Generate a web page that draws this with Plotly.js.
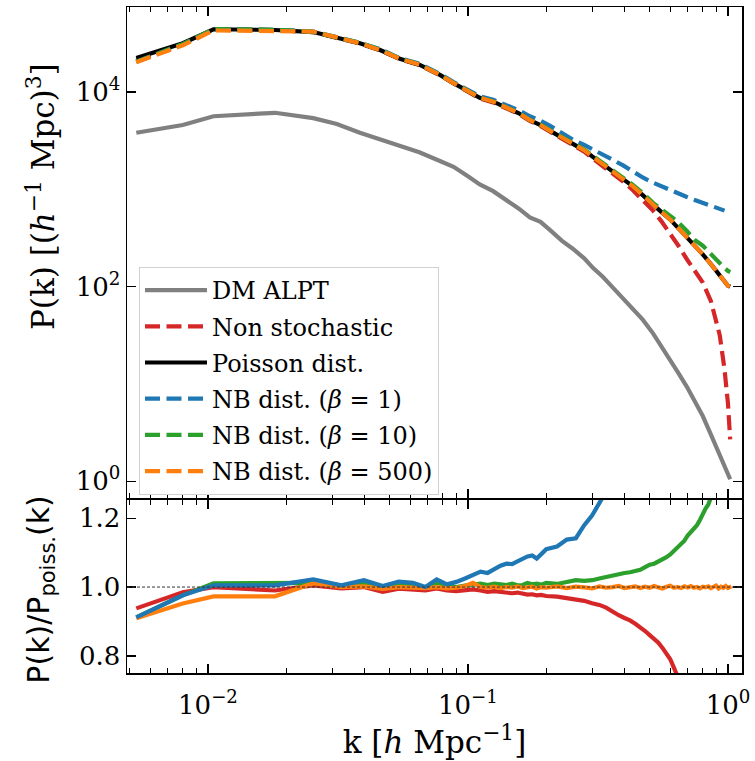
<!DOCTYPE html>
<html>
<head>
<meta charset="utf-8">
<script src="https://cdn.plot.ly/plotly-3.0.1.min.js"></script>
<style>html,body{margin:0;padding:0;background:#fff;}</style>
</head>
<body>
<div id="chart" style="width:755px;height:761px;"></div>
<script>
// ---------- DATA ----------
// k grid of the power-spectrum panel [h/Mpc]
const kTop = [0.0053, 0.0080, 0.0105, 0.0181, 0.0254, 0.0313, 0.0384, 0.0459, 0.0547, 0.065,
  0.078, 0.088, 0.099, 0.111, 0.125, 0.141, 0.157, 0.173, 0.19, 0.207,
  0.23, 0.253, 0.28, 0.303, 0.33, 0.361, 0.395, 0.431, 0.47, 0.515,
  0.555, 0.599, 0.645, 0.695, 0.745, 0.80, 0.86, 0.93, 0.97, 1.0, 1.02];

const pDM = [3800, 4570, 5620, 6100, 5370, 4680, 3800, 3240, 2750, 2400,
  1950, 1700, 1380, 1120, 955, 776, 631, 513, 462, 380,
  295, 245, 195, 155, 126, 97.7, 75.9, 57.5, 45.7, 33.1,
  24.5, 17.8, 12.9, 9.33, 6.61, 4.68, 3.02, 1.91, 1.45, 1.20, 1.05];

const pNonStoch = [20990, 30830, 43950, 43050, 41200, 35970, 31330, 26670, 21680, 18880,
  14830, 12190, 10280, 8550, 7800, 6790, 5920, 5040, 4480, 3900,
  3300, 2860, 2430, 2050, 1740, 1430, 1200, 977, 776, 603,
  468, 355, 263, 191, 148, 110, 70.8, 31.6, 14.1, 6.31, 2.69];

const pPoisson = [22300, 31600, 44000, 43250, 41200, 36300, 31600, 26900, 21900, 19050,
  14960, 12300, 10470, 8710, 7940, 6920, 6030, 5130, 4570, 3980,
  3390, 2950, 2510, 2140, 1820, 1510, 1290, 1070, 871, 692,
  582, 490, 398, 324, 263, 214, 170, 132, 112, 102, 100];

const pNB1 = [20420, 30900, 44160, 43450, 41690, 36730, 31990, 27540, 22130, 19500,
  15310, 12590, 10720, 9020, 8320, 7330, 6460, 5620, 5070, 4470,
  3720, 3240, 2850, 2570, 2240, 2000, 1760, 1510, 1320, 1170,
  1070, 977, 902, 832, 776, 724, 676, 631, 603];

const pNB10 = [20420, 30900, 44160, 43450, 41400, 36480, 31770, 27100, 21980, 19190,
  15030, 12360, 10520, 8750, 7980, 6950, 6050, 5150, 4600, 4030,
  3430, 2990, 2560, 2190, 1860, 1550, 1330, 1110, 912, 724,
  624, 537, 457, 372, 302, 263, 214, 174, 155, 145, 141];

const pNB500 = [20180, 30100, 42760, 42070, 41690, 36300, 31600, 26900, 21900, 19050,
  14960, 12300, 10470, 8710, 7940, 6920, 6030, 5130, 4570, 3980,
  3390, 2950, 2510, 2140, 1820, 1510, 1290, 1070, 871, 692,
  582, 490, 398, 324, 263, 214, 170, 132, 112, 102, 100];

// k grid of the ratio panel [h/Mpc]
const kRatio = [0.0053, 0.0080, 0.0105, 0.0181, 0.0254,
  0.0326, 0.0398, 0.0470, 0.0542, 0.0614, 0.0686, 0.0758, 0.0830, 0.0902, 0.0974,
  0.1046, 0.1118, 0.119, 0.1262, 0.1334, 0.1406, 0.1478, 0.155, 0.1622, 0.1694,
  0.1766, 0.1838, 0.191,
  0.20, 0.22, 0.24, 0.26, 0.28, 0.30, 0.32, 0.34, 0.36, 0.38,
  0.40, 0.42, 0.44, 0.46, 0.48, 0.50, 0.52, 0.54, 0.56, 0.58,
  0.60, 0.62, 0.64, 0.66, 0.68, 0.70, 0.72, 0.74, 0.76, 0.78,
  0.80, 0.82, 0.84, 0.86, 0.88, 0.90, 0.92, 0.94, 0.96, 0.98,
  1.00, 1.02, 1.03];

const ratioNonStoch = [0.938, 0.985, 1.0, 0.99, 1.005,
  0.996, 1.0, 0.986, 0.995, 0.993, 0.99, 0.996, 0.99, 0.988, 0.99,
  0.993, 0.99, 0.986, 0.988, 0.985, 0.983, 0.982, 0.984, 0.98, 0.978,
  0.979, 0.976, 0.977,
  0.974, 0.972, 0.968, 0.962, 0.96, 0.953, 0.948, 0.94, 0.928, 0.918,
  0.91, 0.903, 0.893, 0.883, 0.872, 0.86, 0.85, 0.838, 0.823, 0.805,
  0.79, 0.765, 0.742, 0.715];

const ratioNB1 = [0.912, 0.976, 1.005, 1.005, 1.022,
  1.005, 1.02, 1.003, 1.016, 1.012, 1.0, 1.022, 1.008, 1.015, 1.025,
  1.035, 1.045, 1.041, 1.052, 1.062, 1.068, 1.067, 1.075, 1.082, 1.089,
  1.092, 1.083, 1.095,
  1.11, 1.118, 1.138, 1.142, 1.18, 1.208, 1.24, 1.272, 1.31];

const ratioNB10 = [0.912, 0.976, 1.011, 1.01, 1.012,
  1.005, 1.01, 1.002, 1.005, 1.003, 1.0, 1.012, 1.005, 1.0, 1.004,
  1.008, 1.01, 1.006, 1.01, 1.008, 1.006, 1.01, 1.005, 1.006, 1.012,
  1.008, 1.01, 1.007,
  1.012, 1.009, 1.015, 1.02, 1.018, 1.02, 1.025, 1.03, 1.033, 1.038,
  1.041, 1.043, 1.047, 1.05, 1.058, 1.065, 1.068, 1.074, 1.08, 1.087,
  1.095, 1.105, 1.115, 1.125, 1.135, 1.15, 1.16, 1.17, 1.18, 1.195,
  1.214, 1.228, 1.24, 1.258, 1.28];

const ratioNB500 = [0.909, 0.952, 0.973, 0.973, 1.011,
  1.0, 1.002, 0.995, 1.0, 0.998, 0.997, 1.0, 0.996, 0.998, 1.003,
  1.012, 1.0, 0.998, 1.001, 0.997, 1.0, 0.998, 1.002, 0.997, 0.999,
  1.001, 0.996, 1.0,
  0.998, 1.002, 0.997, 1.001, 0.999, 0.996, 1.002, 0.998, 1.0, 1.003,
  0.997, 1.0, 1.002, 0.997, 1.001, 0.998, 1.003, 0.999, 0.996, 1.001,
  1.004, 0.998, 1.0, 0.997, 1.002, 0.999, 1.003, 0.998, 1.0, 0.996,
  1.001, 0.999, 1.002, 0.997, 1.0, 1.004, 0.996, 1.001, 0.998, 1.003,
  0.997, 1.0, 1.002];

const xTickVals = [0.01, 0.1, 1];
const xTickText = ['10<sup>−2</sup>', '10<sup>−1</sup>', '10<sup>0</sup>'];
const xMinorVals = [0.005, 0.006, 0.007, 0.008, 0.009,
  0.02, 0.03, 0.04, 0.05, 0.06, 0.07, 0.08, 0.09,
  0.2, 0.3, 0.4, 0.5, 0.6, 0.7, 0.8, 0.9];
const yTopTickVals = [1, 100, 10000];
const yTopTickText = ['10<sup>0</sup>', '10<sup>2</sup>', '10<sup>4</sup>'];
const yBotTickVals = [0.8, 1.0, 1.2];
const yBotTickText = ['0.8', '1.0', '1.2'];

const legendNames = ['DM ALPT', 'Non stochastic', 'Poisson dist.',
  'NB dist. (<i>β</i> = 1)', 'NB dist. (<i>β</i> = 10)', 'NB dist. (<i>β</i> = 500)'];

// ---------- STYLE ----------
const C = {gray: '#808080', red: '#d62728', black: '#000000', blue: '#1f77b4', green: '#2ca02c', orange: '#ff7f0e'};
const LW = 4.2;
const DASH = '15px,6.5px';

const traces = [
  {x: kTop, y: pDM, name: legendNames[0], legendgroup: 'g0', mode: 'lines', line: {color: C.gray, width: LW}, xaxis: 'x', yaxis: 'y'},
  {x: kTop, y: pNonStoch, name: legendNames[1], legendgroup: 'g1', mode: 'lines', line: {color: C.red, width: LW, dash: DASH}, xaxis: 'x', yaxis: 'y'},
  {x: kTop, y: pPoisson, name: legendNames[2], legendgroup: 'g2', mode: 'lines', line: {color: C.black, width: LW}, xaxis: 'x', yaxis: 'y'},
  {x: kTop.slice(0, pNB1.length), y: pNB1, name: legendNames[3], legendgroup: 'g3', mode: 'lines', line: {color: C.blue, width: LW, dash: DASH}, xaxis: 'x', yaxis: 'y'},
  {x: kTop, y: pNB10, name: legendNames[4], legendgroup: 'g4', mode: 'lines', line: {color: C.green, width: LW, dash: DASH}, xaxis: 'x', yaxis: 'y'},
  {x: kTop, y: pNB500, name: legendNames[5], legendgroup: 'g5', mode: 'lines', line: {color: C.orange, width: LW, dash: DASH}, xaxis: 'x', yaxis: 'y'},
  // ratio panel
  {x: kRatio.slice(0, ratioNonStoch.length), y: ratioNonStoch, mode: 'lines', showlegend: false, line: {color: C.red, width: LW}, xaxis: 'x2', yaxis: 'y2'},
  {x: kRatio.slice(0, ratioNB10.length), y: ratioNB10, mode: 'lines', showlegend: false, line: {color: C.green, width: LW}, xaxis: 'x2', yaxis: 'y2'},
  {x: kRatio.slice(0, ratioNB500.length), y: ratioNB500, mode: 'lines', showlegend: false, line: {color: C.orange, width: LW}, xaxis: 'x2', yaxis: 'y2'},
  {x: kRatio.slice(0, ratioNB1.length), y: ratioNB1, mode: 'lines', showlegend: false, line: {color: C.blue, width: LW}, xaxis: 'x2', yaxis: 'y2'}
];

const serif = 'DejaVu Serif, serif';
const sans = 'DejaVu Sans, sans-serif';
const tickFont = {family: serif, size: 26, color: 'black'};

const commonX = {
  type: 'log',
  range: [-2.3115, 0.054],
  showline: true, linecolor: 'black', linewidth: 1.5, mirror: 'allticks',
  ticks: 'inside', ticklen: 9, tickwidth: 1.5, tickcolor: 'black',
  tickmode: 'array', tickvals: xTickVals, ticktext: xTickText,
  minor: {ticks: 'inside', ticklen: 5, tickwidth: 1, tickcolor: 'black', tickmode: 'array', tickvals: xMinorVals, showgrid: false},
  showgrid: false, zeroline: false,
  tickfont: tickFont
};

const split = 0.2613;
const half = 0.75 / 666;

const layout = {
  width: 755, height: 761,
  margin: {l: 127, r: 13, t: 7, b: 88, pad: 0},
  paper_bgcolor: 'white', plot_bgcolor: 'white',
  showlegend: true,
  legend: {
    x: 0.0195, y: 0.6096, xanchor: 'left', yanchor: 'top',
    bgcolor: 'white', bordercolor: '#d0d0d0', borderwidth: 1,
    font: {family: serif, size: 24, color: 'black'},
    traceorder: 'grouped', tracegroupgap: 2,
    itemwidth: 62
  },
  xaxis: Object.assign({}, commonX, {anchor: 'y', domain: [0, 1], showticklabels: false}),
  xaxis2: Object.assign({}, commonX, {anchor: 'y2', domain: [0, 1], matches: 'x', showticklabels: true,
    ticklabelstandoff: 8,
    title: {text: 'k [<i>h</i> Mpc<sup>−1</sup>]', font: {family: serif, size: 31, color: 'black'}, standoff: 10}}),
  yaxis: {
    type: 'log', range: [-0.174, 4.872], domain: [split + half, 1], anchor: 'x',
    showline: true, linecolor: 'black', linewidth: 1.5, mirror: 'allticks',
    ticks: 'inside', ticklen: 9, tickwidth: 1.5, tickcolor: 'black',
    tickmode: 'array', tickvals: yTopTickVals, ticktext: yTopTickText,
    showgrid: false, zeroline: false, tickfont: tickFont
  },
  yaxis2: {
    range: [0.75, 1.254], domain: [0, split - half], anchor: 'x2',
    showline: true, linecolor: 'black', linewidth: 1.5, mirror: 'allticks',
    ticks: 'inside', ticklen: 9, tickwidth: 1.5, tickcolor: 'black',
    tickmode: 'array', tickvals: yBotTickVals, ticktext: yBotTickText,
    showgrid: false, zeroline: false, tickfont: tickFont
  },
  shapes: [
    {type: 'line', xref: 'x2 domain', x0: 0, x1: 1, yref: 'y2', y0: 1, y1: 1,
     line: {color: '#333333', width: 1, dash: '3px,2px'}, layer: 'above'}
  ],
  annotations: [
    {text: 'P(k) [(<i>h</i><sup>−1</sup> Mpc)<sup>3</sup>]', xref: 'paper', yref: 'paper',
     x: -0.14, y: 0.716, xanchor: 'center', yanchor: 'middle', textangle: -90, showarrow: false,
     font: {family: serif, size: 31, color: 'black'}},
    {text: 'P(k)/P<sub>poiss.</sub>(k)', xref: 'paper', yref: 'paper',
     x: -0.14, y: 0.125, xanchor: 'center', yanchor: 'middle', textangle: -90, showarrow: false,
     font: {family: sans, size: 30, color: 'black'}}
  ]
};

Plotly.newPlot('chart', traces, layout, {displayModeBar: false, staticPlot: true});
</script>
</body>
</html>
